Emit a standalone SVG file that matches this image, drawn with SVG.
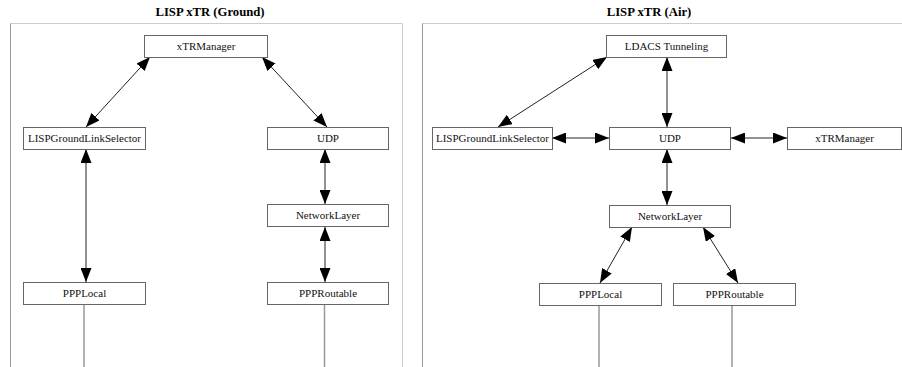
<svg xmlns="http://www.w3.org/2000/svg" width="902" height="367" viewBox="0 0 902 367">
<style>
.title{font-family:'Liberation Serif','Times New Roman',serif;font-weight:bold;font-size:12.7px;fill:#000;text-anchor:middle}
.lbl{font-family:'Liberation Serif','Times New Roman',serif;font-size:11px;fill:#111;text-anchor:middle}
.box{fill:#fff;stroke:#666;stroke-width:1}
.arr{stroke:#222;stroke-width:1;fill:none;marker-start:url(#ah);marker-end:url(#ah)}
.life{stroke:#999;stroke-width:1.5;fill:none}
.frameL{stroke:#999;stroke-width:1;fill:none}
.frameS{stroke:#ccc;stroke-width:1;fill:none}
</style>
<defs>
<marker id="ah" viewBox="0 0 14 11" refX="14" refY="5.5" markerWidth="14" markerHeight="11" markerUnits="userSpaceOnUse" orient="auto-start-reverse">
<path d="M0,0 L14,5.5 L0,11 z" fill="#000"/>
</marker>
</defs>
<rect width="902" height="367" fill="#fff"/>

<g id="panel-ground">
<text class="title" x="210" y="16">LISP xTR (Ground)</text>
<line class="frameS" x1="10.5" y1="23.5" x2="402.5" y2="23.5"/>
<line class="frameL" x1="10.5" y1="23.5" x2="10.5" y2="367"/>
<line class="frameS" x1="402.5" y1="23.5" x2="402.5" y2="367"/>
</g>
<g id="panel-air">
<text class="title" x="649" y="16">LISP xTR (Air)</text>
<line class="frameS" x1="422.5" y1="23.5" x2="902" y2="23.5"/>
<line class="frameL" x1="422.5" y1="23.5" x2="422.5" y2="367"/>
</g>

<g id="connectors">
<line class="arr" x1="150" y1="57" x2="86" y2="127"/>
<line class="arr" x1="262" y1="57" x2="327" y2="127"/>
<line class="arr" x1="86" y1="149" x2="86" y2="282"/>
<line class="arr" x1="325" y1="149" x2="325" y2="204"/>
<line class="arr" x1="325" y1="227" x2="325" y2="282"/>
<line class="life" x1="84" y1="305" x2="84" y2="367"/>
<line class="life" x1="324.5" y1="305" x2="324.5" y2="367"/>

<line class="arr" x1="607" y1="57" x2="498" y2="127"/>
<line class="arr" x1="667" y1="57" x2="667" y2="127"/>
<line class="arr" x1="552" y1="138" x2="609" y2="138"/>
<line class="arr" x1="731" y1="138" x2="787" y2="138"/>
<line class="arr" x1="667" y1="149" x2="667" y2="205"/>
<line class="arr" x1="632" y1="227" x2="600" y2="283"/>
<line class="arr" x1="703" y1="227" x2="738" y2="283"/>
<line class="life" x1="599" y1="305" x2="599" y2="367"/>
<line class="life" x1="732" y1="306" x2="732" y2="367"/>
</g>

<g id="g-xTRManager"><rect class="box" x="144.5" y="35.5" width="123" height="22"/><text class="lbl" x="206" y="50">xTRManager</text></g>
<g id="g-LISPGroundLinkSelector"><rect class="box" x="23.5" y="127.5" width="122" height="22"/><text class="lbl" x="84.5" y="142">LISPGroundLinkSelector</text></g>
<g id="g-UDP"><rect class="box" x="267.5" y="127.5" width="121" height="22"/><text class="lbl" x="328" y="142">UDP</text></g>
<g id="g-NetworkLayer"><rect class="box" x="267.5" y="204.5" width="121" height="22"/><text class="lbl" x="328" y="219">NetworkLayer</text></g>
<g id="g-PPPLocal"><rect class="box" x="23.5" y="282.5" width="122" height="22"/><text class="lbl" x="84.5" y="297">PPPLocal</text></g>
<g id="g-PPPRoutable"><rect class="box" x="267.5" y="282.5" width="121" height="22"/><text class="lbl" x="328" y="297">PPPRoutable</text></g>

<g id="a-LDACSTunneling"><rect class="box" x="606.5" y="35.5" width="120" height="22"/><text class="lbl" x="666.5" y="50">LDACS Tunneling</text></g>
<g id="a-LISPGroundLinkSelector"><rect class="box" x="432.5" y="127.5" width="120" height="22"/><text class="lbl" x="492.5" y="142">LISPGroundLinkSelector</text></g>
<g id="a-UDP"><rect class="box" x="609.5" y="127.5" width="121" height="22"/><text class="lbl" x="670" y="142">UDP</text></g>
<g id="a-xTRManager"><rect class="box" x="787.5" y="127.5" width="114" height="22"/><text class="lbl" x="844.5" y="142">xTRManager</text></g>
<g id="a-NetworkLayer"><rect class="box" x="609.5" y="205.5" width="121" height="22"/><text class="lbl" x="670" y="220">NetworkLayer</text></g>
<g id="a-PPPLocal"><rect class="box" x="539.5" y="283.5" width="122" height="22"/><text class="lbl" x="600.5" y="298">PPPLocal</text></g>
<g id="a-PPPRoutable"><rect class="box" x="673.5" y="283.5" width="122" height="22"/><text class="lbl" x="734.5" y="298">PPPRoutable</text></g>
</svg>
